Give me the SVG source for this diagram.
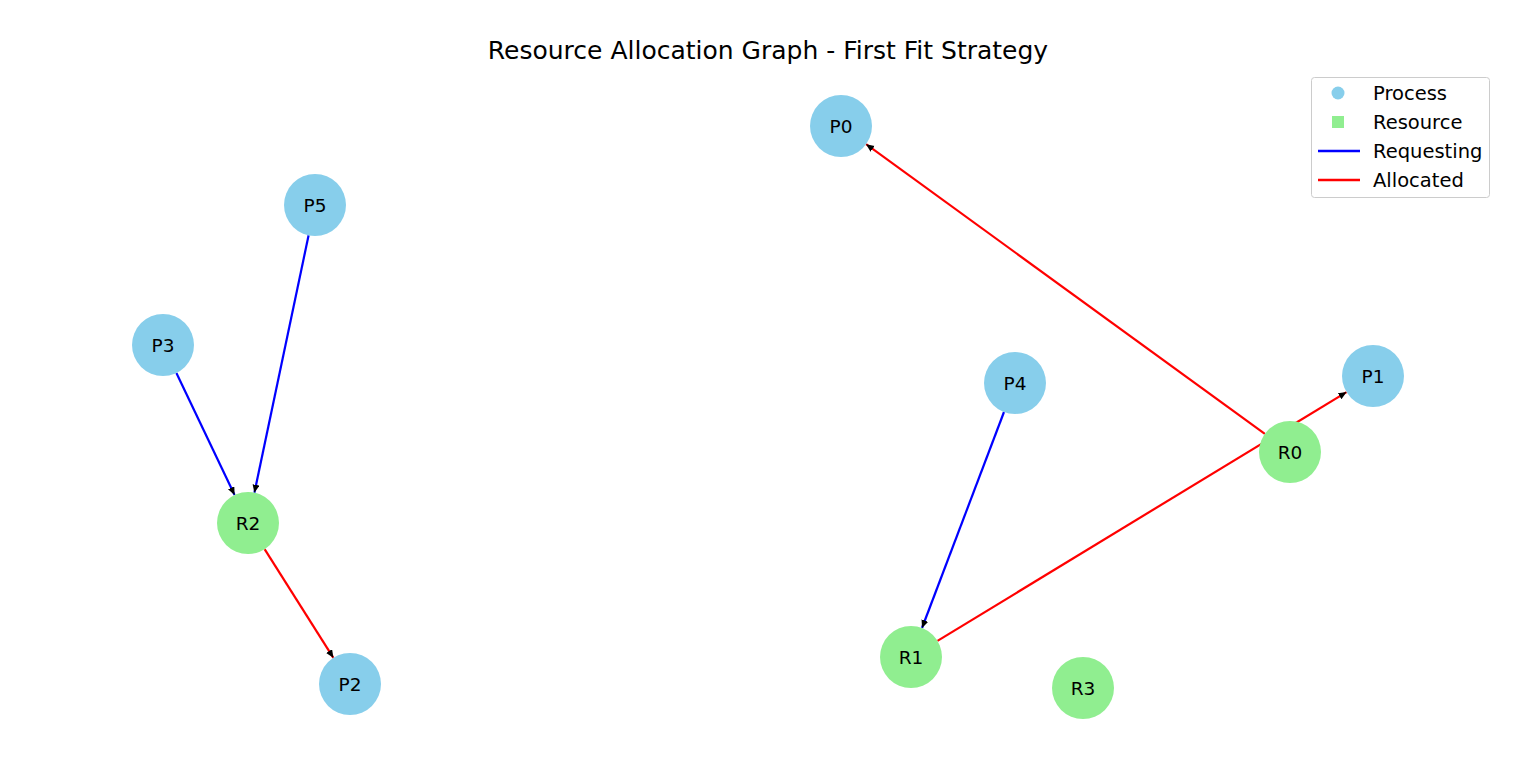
<svg xmlns="http://www.w3.org/2000/svg" width="1536" height="767" viewBox="0 0 1536 767">
<style>
text{font-family:"DejaVu Sans","Liberation Sans",sans-serif;fill:#000}
.lbl{font-size:18.5px;text-anchor:middle;dominant-baseline:central}
.proc{fill:#87CEEB}
.res{fill:#90EE90}
.req{stroke:#0000FF;stroke-width:2.2;fill:none;marker-end:url(#ah)}
.alloc{stroke:#FF0000;stroke-width:2.2;fill:none;marker-end:url(#ah)}
.leg{font-size:19.5px}
</style>
<defs>
<marker id="ah" markerUnits="userSpaceOnUse" markerWidth="10" markerHeight="8" refX="8" refY="3.5" orient="auto">
<path d="M0,0 L8,3.5 L0,7 z" fill="#000"/>
</marker>
</defs>
<rect width="1536" height="767" fill="#fff"/>
<text x="768" y="59" font-size="25" text-anchor="middle">Resource Allocation Graph - First Fit Strategy</text>
<g id="edges">
<line class="req" x1="308.6" y1="235.3" x2="254.4" y2="492.7"/>
<line class="req" x1="176.4" y1="373.0" x2="234.6" y2="495.0"/>
<line class="alloc" x1="264.6" y1="549.2" x2="333.4" y2="657.8"/>
<line class="req" x1="1004.0" y1="412.0" x2="922.0" y2="628.0"/>
<line class="alloc" x1="1264.9" y1="433.8" x2="866.1" y2="144.2"/>
<line class="alloc" x1="937.5" y1="640.9" x2="1346.5" y2="392.1"/>
</g>
<g id="P0"><circle class="proc" cx="841" cy="126" r="31"/><text class="lbl" x="841" y="126">P0</text></g>
<g id="P1"><circle class="proc" cx="1373" cy="376" r="31"/><text class="lbl" x="1373" y="376">P1</text></g>
<g id="P2"><circle class="proc" cx="350" cy="684" r="31"/><text class="lbl" x="350" y="684">P2</text></g>
<g id="P3"><circle class="proc" cx="163" cy="345" r="31"/><text class="lbl" x="163" y="345">P3</text></g>
<g id="P4"><circle class="proc" cx="1015" cy="383" r="31"/><text class="lbl" x="1015" y="383">P4</text></g>
<g id="P5"><circle class="proc" cx="315" cy="205" r="31"/><text class="lbl" x="315" y="205">P5</text></g>
<g id="R0"><circle class="res" cx="1290" cy="452" r="31"/><text class="lbl" x="1290" y="452">R0</text></g>
<g id="R1"><circle class="res" cx="911" cy="657" r="31"/><text class="lbl" x="911" y="657">R1</text></g>
<g id="R2"><circle class="res" cx="248" cy="523" r="31"/><text class="lbl" x="248" y="523">R2</text></g>
<g id="R3"><circle class="res" cx="1083" cy="688" r="31"/><text class="lbl" x="1083" y="688">R3</text></g>
<g id="legend">
<rect x="1311.5" y="77.5" width="178" height="120" rx="3" fill="#fff" stroke="#ccc" stroke-width="1"/>
<circle class="proc" cx="1338" cy="93" r="6.5"/>
<rect class="res" x="1332" y="116" width="12" height="12"/>
<line x1="1318" y1="151" x2="1360" y2="151" stroke="#0000FF" stroke-width="2.5"/>
<line x1="1318" y1="180" x2="1360" y2="180" stroke="#FF0000" stroke-width="2.5"/>
<text class="leg" x="1373" y="100">Process</text>
<text class="leg" x="1373" y="129">Resource</text>
<text class="leg" x="1373" y="158">Requesting</text>
<text class="leg" x="1373" y="187">Allocated</text>
</g>
</svg>
